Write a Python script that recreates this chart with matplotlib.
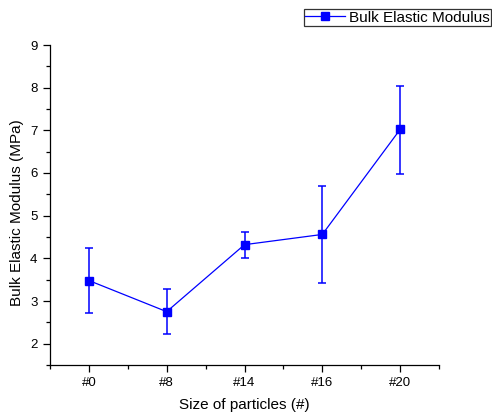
import matplotlib
matplotlib.use("Agg")
import matplotlib.pyplot as plt
from matplotlib.ticker import MultipleLocator

plt.rcParams['font.family'] = ['Liberation Sans', 'DejaVu Sans']

categories = ["#0", "#8", "#14", "#16", "#20"]
modulus = [3.48, 2.75, 4.32, 4.56, 7.02]
err_upper = [4.25, 3.27, 4.62, 5.70, 8.05]
err_lower = [2.71, 2.23, 4.01, 3.42, 5.98]

yerr = [[m - lo for m, lo in zip(modulus, err_lower)],
        [hi - m for m, hi in zip(modulus, err_upper)]]

fig = plt.figure(figsize=(4.92, 4.18), dpi=100)
ax = fig.add_axes([50 / 492, 1 - 365 / 418, (439 - 50) / 492, (365 - 45) / 418])

blue = '#0000ff'
x = list(range(len(categories)))
ax.errorbar(x, modulus, yerr=yerr, fmt='none', ecolor=blue, elinewidth=1.1,
            capsize=2.6, capthick=1.1)
ax.plot(x, modulus, color=blue, lw=0.9, marker='s', markersize=5.2,
        label='Bulk Elastic Modulus')

ax.set_xlim(-0.5, 4.5)
ax.set_ylim(1.5, 9)
ax.set_xticks(x)
ax.set_xticklabels(categories)
ax.xaxis.set_minor_locator(MultipleLocator(0.5))
ax.yaxis.set_major_locator(MultipleLocator(1))
ax.yaxis.set_minor_locator(MultipleLocator(0.5))
ax.tick_params(which='major', direction='out', length=5, width=0.9, labelsize=9.5, pad=4)
ax.tick_params(which='minor', direction='out', length=3, width=0.9)

for side in ('top', 'right'):
    ax.spines[side].set_visible(False)
for side in ('left', 'bottom'):
    ax.spines[side].set_linewidth(0.9)

ax.set_xlabel('Size of particles (#)', fontsize=11)
ax.set_ylabel('Bulk Elastic Modulus (MPa)', fontsize=11)
ax.xaxis.set_label_coords(0.5, -0.103)
ax.yaxis.set_label_coords(-0.068, 0.475)

leg = fig.legend(loc='upper right', bbox_to_anchor=(491 / 492, 1 - 9 / 418),
                 fontsize=11, frameon=True, fancybox=False, borderpad=0.1,
                 handlelength=2.6, handletextpad=0.25, borderaxespad=0)
leg.get_frame().set_edgecolor('black')
leg.get_frame().set_linewidth(0.9)

fig.savefig('out.png', dpi=100)
